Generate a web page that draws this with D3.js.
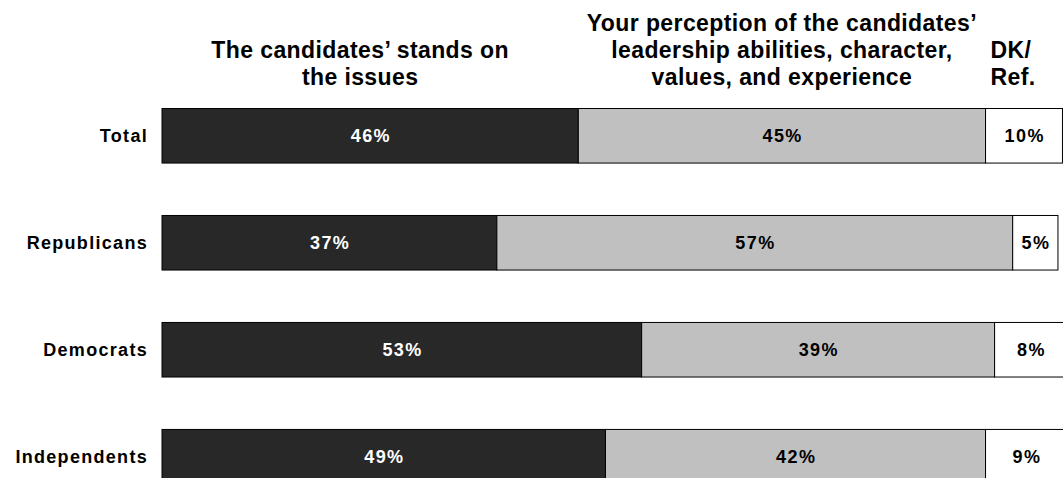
<!DOCTYPE html>
<html>
<head>
<meta charset="utf-8">
<script src="https://cdn.jsdelivr.net/npm/d3@7"></script>
<style>
  body { margin: 0; background: #fff; }
  text { font-family: "Liberation Sans", Arial, sans-serif; font-weight: bold; }
</style>
</head>
<body>
<div id="wrapper"></div>
<script>
// data
const groups = ["Total", "Republicans", "Democrats", "Independents"];
const seriesNames = ["issues", "perception", "dk"];
// bar lengths as they look in the picture (percent)
const issuesValues = [46, 37, 53, 49];
const perceptionValues = [45, 57, 39, 42];
const dkValues = [8.5, 5, 8, 9];
// the printed labels
const issuesLabels = ["46%", "37%", "53%", "49%"];
const perceptionLabels = ["45%", "57%", "39%", "42%"];
const dkLabels = ["10%", "5%", "8%", "9%"];
const headerLines = [
  ["The candidates\u2019 stands on", "the issues"],
  ["Your perception of the candidates\u2019", "leadership abilities, character,", "values, and experience"],
  ["DK/", "Ref."]
];

function drawBars() {
  let dimensions = {
    width: 1063,
    height: 478,
    margin: { top: 108.5, right: 0, bottom: 0, left: 162 },
  };

  const colors = { issues: "#282828", perception: "#c0c0c0", dk: "#ffffff" };
  const textColors = { issues: "#ffffff", perception: "#000000", dk: "#000000" };

  const rows = groups.map((g, i) => ({
    group: g,
    issues: issuesValues[i],
    perception: perceptionValues[i],
    dk: dkValues[i],
    labels: { issues: issuesLabels[i], perception: perceptionLabels[i], dk: dkLabels[i] }
  }));

  const stacked = d3.stack().keys(seriesNames)(rows);

  const svg = d3.select("#wrapper")
    .append("svg")
    .attr("width", dimensions.width)
    .attr("height", dimensions.height);

  // 100% ~ 905px
  const xScale = d3.scaleLinear()
    .domain([0, 100])
    .range([dimensions.margin.left, dimensions.margin.left + 905]);

  const yScale = d3.scaleBand()
    .domain(groups)
    .range([dimensions.margin.top, 484])
    .paddingInner(0.49)
    .paddingOuter(0);

  const layers = svg.append("g")
    .selectAll("g")
    .data(stacked)
    .join("g");

  layers.selectAll("rect")
    .data(d => d.map(p => ({ key: d.key, p })))
    .join("rect")
    .attr("x", d => xScale(d.p[0]))
    .attr("y", d => yScale(d.p.data.group))
    .attr("width", d => xScale(d.p[1]) - xScale(d.p[0]))
    .attr("height", yScale.bandwidth())
    .attr("fill", d => colors[d.key])
    .attr("stroke", "#000")
    .attr("stroke-width", 1);

  layers.selectAll("text")
    .data(d => d.map(p => ({ key: d.key, p })))
    .join("text")
    .attr("x", d => (xScale(d.p[0]) + xScale(d.p[1])) / 2 + 0.7)
    .attr("y", d => yScale(d.p.data.group) + yScale.bandwidth() / 2)
    .attr("dy", "0.36em")
    .attr("text-anchor", "middle")
    .style("font-size", "18px")
    .style("letter-spacing", "1.4px")
    .attr("fill", d => textColors[d.key])
    .text(d => d.p.data.labels[d.key]);

  // group labels on the left
  svg.append("g")
    .selectAll("text")
    .data(groups)
    .join("text")
    .attr("x", dimensions.margin.left - 14)
    .attr("y", d => yScale(d) + yScale.bandwidth() / 2)
    .attr("dy", "0.36em")
    .attr("text-anchor", "end")
    .style("font-size", "18px")
    .style("letter-spacing", "1.3px")
    .text(d => d);

  // column headers, placed over the Total bar segments
  const totalSegs = stacked.map(s => s[0]);
  const lineHeight = 27;
  const lastBaseline = 84.5;
  headerLines.forEach((lines, i) => {
    const seg = totalSegs[i];
    const isDk = i === 2;
    // first header sits a bit left of its segment centre in the original
    const nudge = i === 0 ? -10 : 0;
    const x = isDk ? xScale(seg[0]) + 5 : (xScale(seg[0]) + xScale(seg[1])) / 2 + nudge;
    svg.append("text")
      .attr("text-anchor", isDk ? "start" : "middle")
      .style("font-size", "23px")
      .style("letter-spacing", "0.4px")
      .selectAll("tspan")
      .data(lines)
      .join("tspan")
      .attr("x", x)
      .attr("y", (d, j) => lastBaseline - (lines.length - 1 - j) * lineHeight)
      .text(d => d);
  });
}

drawBars();
</script>
</body>
</html>
